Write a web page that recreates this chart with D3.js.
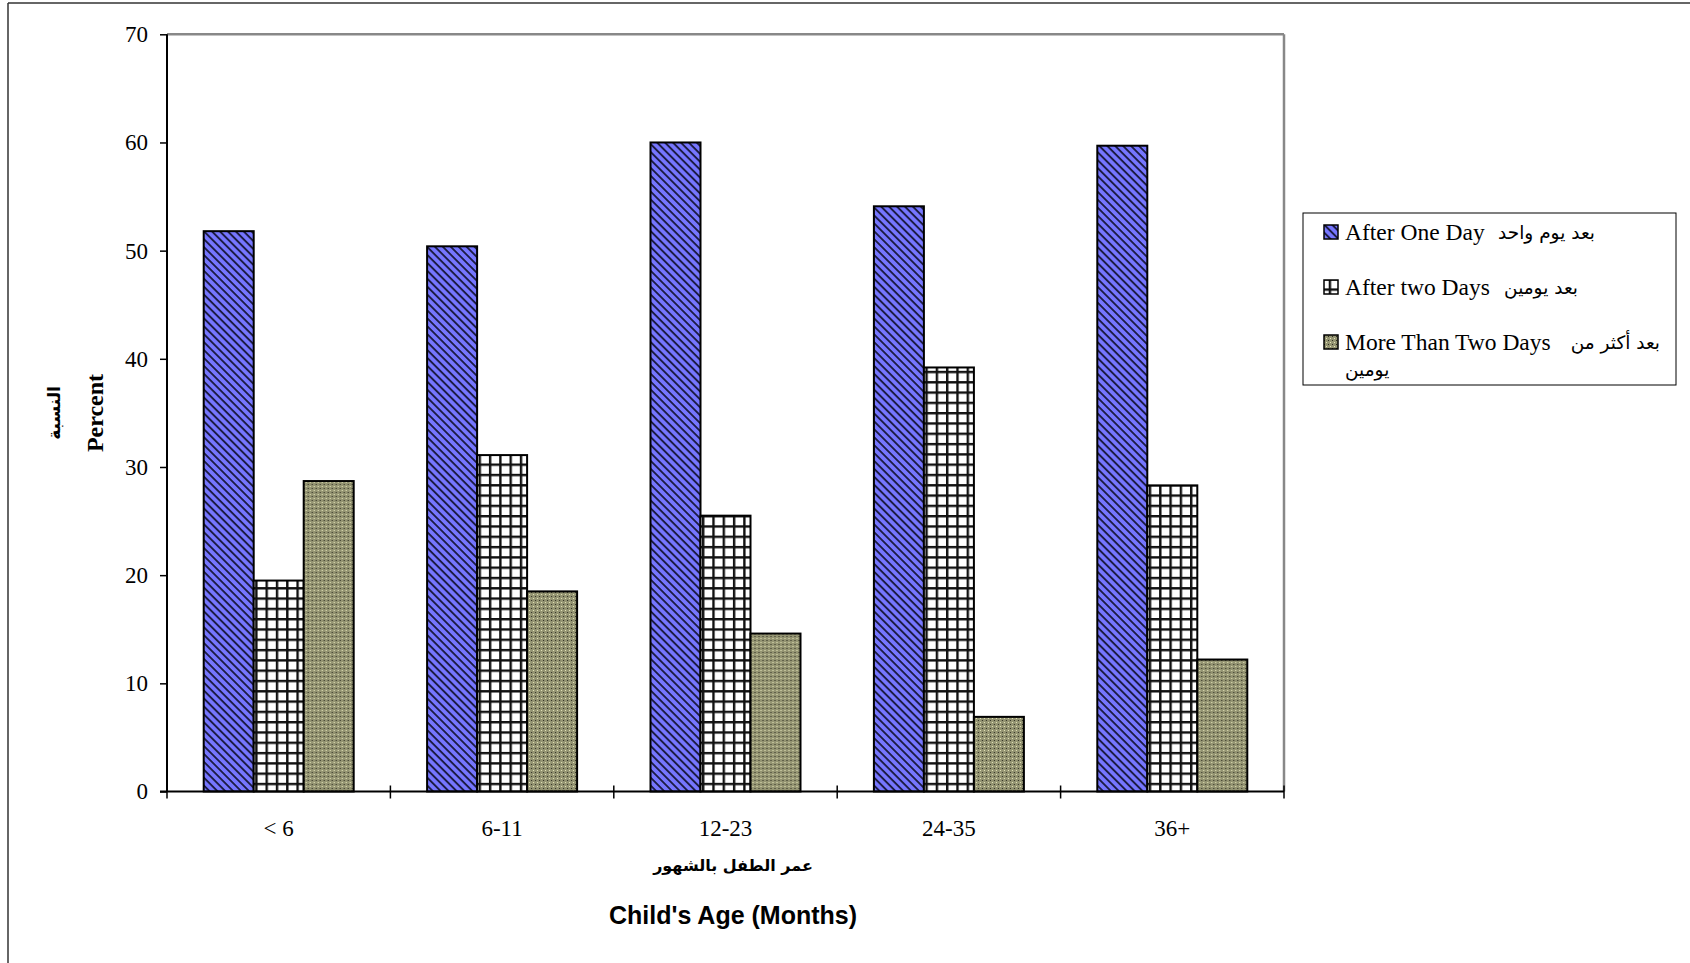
<!DOCTYPE html>
<html><head><meta charset="utf-8">
<script src="https://cdn.jsdelivr.net/npm/d3@7"></script>
<style>html,body{margin:0;padding:0;background:#fff;}svg{display:block;}</style>
</head><body>
<svg id="chart" width="1690" height="963"></svg>
<script>
const categories = ["< 6", "6-11", "12-23", "24-35", "36+"];
const seriesNames = ["After One Day", "After two Days", "More Than Two Days"];
const seriesArabic = ["بعد يوم واحد", "بعد يومين", "بعد أكثر من"];
const afterOneDay = [51.8, 50.4, 60.0, 54.1, 59.7];
const afterTwoDays = [19.5, 31.1, 25.5, 39.2, 28.3];
const moreThanTwoDays = [28.7, 18.5, 14.6, 6.9, 12.2];
const yTicks = [0, 10, 20, 30, 40, 50, 60, 70];

const series = [afterOneDay, afterTwoDays, moreThanTwoDays];
const svg = d3.select("#chart");
const defs = svg.append("defs");

// Pattern 1: blue with dark diagonal stripes (down-right)
const p1 = defs.append("pattern").attr("id", "pat0").attr("patternUnits", "userSpaceOnUse")
  .attr("width", 5.6).attr("height", 5.6).attr("patternTransform", "rotate(45)");
p1.append("rect").attr("width", 5.6).attr("height", 5.6).attr("fill", "#7676ff");
p1.append("rect").attr("x", 0).attr("y", 0).attr("width", 5.6).attr("height", 1.9).attr("fill", "#1c1c44");

// Pattern 2: white with black grid
const p2 = defs.append("pattern").attr("id", "pat1").attr("patternUnits", "userSpaceOnUse")
  .attr("width", 10.3).attr("height", 10.3);
p2.append("rect").attr("width", 10.3).attr("height", 10.3).attr("fill", "#fff");
p2.append("rect").attr("x", 0).attr("y", 0).attr("width", 10.3).attr("height", 2.4).attr("fill", "#111");
p2.append("rect").attr("x", 0).attr("y", 0).attr("width", 2.4).attr("height", 10.3).attr("fill", "#111");

// Pattern 3: olive with dots
const p3 = defs.append("pattern").attr("id", "pat2").attr("patternUnits", "userSpaceOnUse")
  .attr("width", 4).attr("height", 4);
p3.append("rect").attr("width", 4).attr("height", 4).attr("fill", "#949472");
p3.append("rect").attr("x", 0).attr("y", 0).attr("width", 1).attr("height", 1).attr("fill", "#2e2e22");
p3.append("rect").attr("x", 2).attr("y", 2).attr("width", 1).attr("height", 1).attr("fill", "#e8e8bc");

// outer frame lines
svg.append("line").attr("x1", 8).attr("x2", 1690).attr("y1", 3).attr("y2", 3).attr("stroke", "#333").attr("stroke-width", 1.5);
svg.append("line").attr("x1", 8).attr("x2", 8).attr("y1", 3).attr("y2", 963).attr("stroke", "#333").attr("stroke-width", 1.5);

const L = 167, R = 1284, T = 34.3, B = 791.5;
const x0 = d3.scaleBand().domain(categories).range([L, R]).paddingInner(0).paddingOuter(0);
const x1 = d3.scaleBand().domain(d3.range(3)).range([0, 150]);
const y = d3.scaleLinear().domain([0, 70]).range([B, T]);
const groupOffset = (x0.bandwidth() - 150) / 2;

// plot frame (gray top/right)
svg.append("line").attr("x1", L).attr("x2", R).attr("y1", T).attr("y2", T).attr("stroke", "#888").attr("stroke-width", 2.5);
svg.append("line").attr("x1", R).attr("x2", R).attr("y1", T).attr("y2", B).attr("stroke", "#888").attr("stroke-width", 2.5);

// bars
const groups = svg.append("g").selectAll("g").data(categories).join("g")
  .attr("transform", d => `translate(${x0(d) + groupOffset},0)`);
groups.selectAll("rect").data((d, i) => series.map((s, k) => ({k, v: s[i]}))).join("rect")
  .attr("x", d => x1(d.k)).attr("width", x1.bandwidth())
  .attr("y", d => y(d.v)).attr("height", d => y(0) - y(d.v))
  .attr("fill", d => `url(#pat${d.k})`).attr("stroke", "#000").attr("stroke-width", 2);

// y axis
const yAxis = svg.append("g").attr("transform", `translate(${L},0)`)
  .call(d3.axisLeft(y).tickValues(yTicks).tickSize(7).tickPadding(12).tickFormat(d3.format("d")));
yAxis.select(".domain").attr("stroke", "#000").attr("stroke-width", 2).attr("d", `M0,${T}V${B}`);
yAxis.selectAll(".tick line").attr("stroke", "#000").attr("stroke-width", 1.5);
yAxis.selectAll("text").attr("font-family", "Liberation Serif, serif").attr("font-size", 23).attr("fill", "#000");

// x axis
const xAxis = svg.append("g").attr("transform", `translate(0,${B})`)
  .call(d3.axisBottom(x0).tickSize(0).tickPadding(28));
xAxis.select(".domain").attr("stroke", "#000").attr("stroke-width", 2).attr("d", `M${L - 7},0H${R}`);
xAxis.selectAll("text").attr("font-family", "Liberation Serif, serif").attr("font-size", 23).attr("fill", "#000");
const boundaries = categories.map(c => x0(c)).concat([R]);
xAxis.selectAll(".bt").data(boundaries).join("line").attr("class", "bt")
  .attr("x1", d => d).attr("x2", d => d).attr("y1", -6).attr("y2", 7)
  .attr("stroke", "#000").attr("stroke-width", 1.5);

// axis titles
svg.append("text").attr("transform", "translate(103,413) rotate(-90)").attr("text-anchor", "middle")
  .attr("font-family", "Liberation Serif, serif").attr("font-weight", "bold").attr("font-size", 24).text("Percent");
svg.append("text").attr("transform", "translate(60,413) rotate(-90)").attr("text-anchor", "middle")
  .attr("font-family", "DejaVu Sans, sans-serif").attr("font-weight", "bold").attr("font-size", 17).text("النسبة");
svg.append("text").attr("x", 733).attr("y", 871).attr("text-anchor", "middle")
  .attr("font-family", "DejaVu Sans, sans-serif").attr("font-weight", "bold").attr("font-size", 16).text("عمر الطفل بالشهور");
svg.append("text").attr("x", 733).attr("y", 924).attr("text-anchor", "middle")
  .attr("font-family", "Liberation Sans, Arial, sans-serif").attr("font-weight", "bold").attr("font-size", 25).text("Child's Age (Months)");

// legend
const lg = svg.append("g");
lg.append("rect").attr("x", 1303).attr("y", 213).attr("width", 373).attr("height", 172)
  .attr("fill", "#fff").attr("stroke", "#000").attr("stroke-width", 1);
const legendY = [232, 287, 342];
const arabicRight = [1595, 1578, 1660];
seriesNames.forEach((n, k) => {
  lg.append("rect").attr("x", 1324).attr("y", legendY[k] - 7).attr("width", 14).attr("height", 14)
    .attr("fill", `url(#pat${k})`).attr("stroke", "#000").attr("stroke-width", 1.5);
  lg.append("text").attr("x", 1345).attr("y", legendY[k] + 8)
    .attr("font-family", "Liberation Serif, serif").attr("font-size", 23.5).text(n);
  lg.append("text").attr("x", arabicRight[k]).attr("y", legendY[k] + 7).attr("text-anchor", "end")
    .attr("font-family", "DejaVu Sans, sans-serif").attr("font-size", 18.5).text(seriesArabic[k]);
});
lg.append("text").attr("x", 1345).attr("y", 376)
  .attr("font-family", "DejaVu Sans, sans-serif").attr("font-size", 18.5).text("يومين");
</script>
</body></html>
